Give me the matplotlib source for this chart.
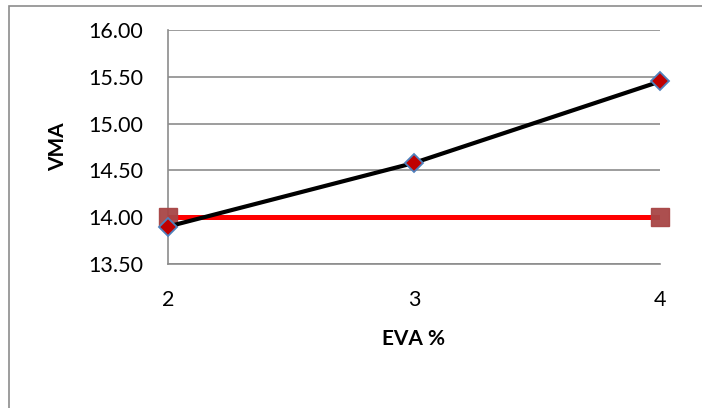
import matplotlib.pyplot as plt
from matplotlib.patches import Rectangle

plt.rcParams['font.family'] = ['Lato', 'DejaVu Sans']

eva = [2, 3, 4]
vma = [13.90, 14.58, 15.45]
limit_x = [2, 4]
limit_vma = [14.00, 14.00]
yticks = [13.50, 14.00, 14.50, 15.00, 15.50, 16.00]

W, H = 702, 408
fig = plt.figure(figsize=(W / 100, H / 100), dpi=100)
# plot area in pixels: left 168, right 660, top 30, bottom 264
ax = fig.add_axes([168 / W, 1 - 264 / H, (660 - 168) / W, (264 - 30) / H])

# chart frame (right and bottom edges fall outside the image)
fig.patches.append(Rectangle((9 / W, -0.1), 1.2, 1 - 6 / H + 0.1,
                             transform=fig.transFigure, fill=False,
                             edgecolor='#8c8c8c', linewidth=1.2))

ax.plot(limit_x, limit_vma, color='#ff0000', linewidth=3.6, zorder=3)
ax.plot(limit_x, limit_vma, linestyle='none', marker='s', markersize=13,
        markerfacecolor='#a84545', markeredgecolor='#a84545', alpha=0.95,
        zorder=4, clip_on=False)
ax.plot(eva, vma, color='black', linewidth=3, marker='D', markersize=9,
        markerfacecolor='#c00000', markeredgecolor='#4f81bd',
        markeredgewidth=1.3, zorder=5, clip_on=False)

ax.set_xlim(2, 4)
ax.set_ylim(13.5, 16.0)
ax.set_xticks(eva)
ax.set_xticklabels([str(v) for v in eva])
ax.set_yticks(yticks)
ax.set_yticklabels(['%.2f' % v for v in yticks])
ax.tick_params(length=0, labelsize=15.5)
ax.tick_params(axis='y', pad=18)
ax.tick_params(axis='x', pad=19)

ax.grid(axis='y', color='#8c8c8c', linewidth=1.2)
ax.set_axisbelow(True)
for side in ['top', 'right']:
    ax.spines[side].set_visible(False)
for side in ['left', 'bottom']:
    ax.spines[side].set_color('#8c8c8c')
    ax.spines[side].set_linewidth(1.2)

ax.set_xlabel('EVA %', fontsize=15, fontweight='bold', va='top')
ax.set_ylabel('VMA', fontsize=15, fontweight='bold')
ax.xaxis.set_label_coords(0.5, -0.278)
ax.yaxis.set_label_coords(-0.203, 0.5)

fig.savefig('out.png', dpi=100)
